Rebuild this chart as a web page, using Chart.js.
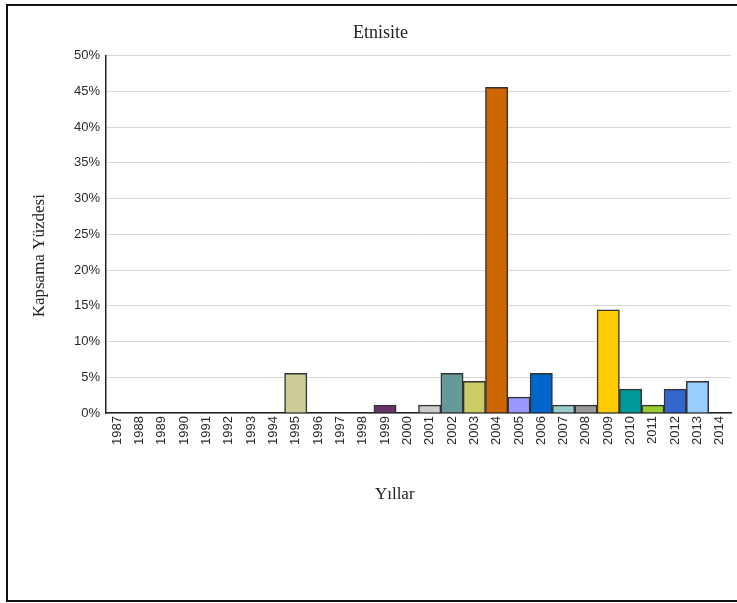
<!DOCTYPE html>
<html>
<head>
<meta charset="utf-8">
<script src="https://cdn.jsdelivr.net/npm/chart.js@4"></script>
<style>
  html, body { margin: 0; padding: 0; background: #fff; overflow: hidden; }
  #frame {
    position: absolute; left: 6px; top: 4px;
    width: 745px; height: 594px;
    border: 2px solid #111; background: #fff;
  }
  #wrap { position: absolute; left: 0; top: 0; width: 729px; height: 594px; }
</style>
</head>
<body>
<div id="frame"><div id="wrap"><canvas id="chart"></canvas></div></div>
<script>
const years = ['1987','1988','1989','1990','1991','1992','1993','1994','1995','1996',
  '1997','1998','1999','2000','2001','2002','2003','2004','2005','2006',
  '2007','2008','2009','2010','2011','2012','2013','2014'];

// kapsama yüzdesi (%)
const coverage = [0, 0, 0, 0, 0, 0, 0, 0, 5.56, 0,
  0, 0, 1.11, 0, 1.11, 5.56, 4.44, 45.56, 2.22, 5.56,
  1.11, 1.11, 14.44, 3.33, 1.11, 3.33, 4.44, 0];

const barColors = ['#cccccc', '#cccccc', '#cccccc', '#cccccc', '#cccccc', '#cccccc', '#cccccc', '#cccccc', '#cccc99', '#cccccc',
  '#cccccc', '#cccccc', '#663366', '#cccccc', '#cccccc', '#669999', '#cccc66', '#cc6600', '#9999ff', '#0066cc',
  '#99cccc', '#999999', '#ffcc00', '#009999', '#99cc33', '#3366cc', '#99ccff', '#cccccc'];

const yTicks = [0, 5, 10, 15, 20, 25, 30, 35, 40, 45, 50];

const serif = 'Liberation Serif';
const sans = 'Liberation Sans';

// axis titles sit a bit off-centre in the original, so draw them by hand
const axisTitles = {
  id: 'axisTitles',
  afterDraw(chart) {
    const a = chart.chartArea;
    const c = chart.ctx;
    c.save();
    c.fillStyle = '#222';
    c.font = '17px "' + serif + '"';
    c.textAlign = 'center';
    c.textBaseline = 'middle';
    c.fillText('Yıllar', a.left + 0.462 * (a.right - a.left), a.bottom + 82);
    c.translate(a.left - 66, a.bottom - 0.44 * (a.bottom - a.top));
    c.rotate(-Math.PI / 2);
    c.fillText('Kapsama Yüzdesi', 0, 0);
    c.restore();
  }
};

const ctx = document.getElementById('chart').getContext('2d');
new Chart(ctx, {
  type: 'bar',
  data: {
    labels: years,
    datasets: [{
      data: coverage,
      backgroundColor: barColors,
      borderColor: '#333333',
      borderWidth: 1.5,
      barPercentage: 1,
      categoryPercentage: 1
    }]
  },
  plugins: [axisTitles],
  options: {
    responsive: true,
    maintainAspectRatio: false,
    animation: false,
    layout: { padding: { left: 22, right: 6, top: 7, bottom: 91 } },
    plugins: {
      legend: { display: false },
      tooltip: { enabled: false },
      title: {
        display: true,
        text: 'Etnisite',
        color: '#222',
        font: { family: serif, size: 18, weight: 'normal' },
        padding: { top: 9, bottom: 12 }
      }
    },
    scales: {
      y: {
        min: 0,
        max: 50,
        afterBuildTicks: (s) => { s.ticks = yTicks.map(v => ({ value: v })); },
        afterFit: (s) => { s.width = 76; },
        ticks: {
          padding: 6,
          color: '#2a2a2a',
          font: { family: sans, size: 13 },
          callback: (v) => v + '%'
        },
        grid: { color: '#d6d6d6', drawTicks: false },
        border: { color: '#222', width: 1.5 }
      },
      x: {
        afterFit: (s) => { s.height = 96; },
        ticks: {
          autoSkip: false,
          maxRotation: 90,
          minRotation: 90,
          padding: -5,
          color: '#2a2a2a',
          font: { family: sans, size: 13 }
        },
        grid: { display: false },
        border: { color: '#222', width: 1.5 }
      }
    }
  }
});
</script>
</body>
</html>
